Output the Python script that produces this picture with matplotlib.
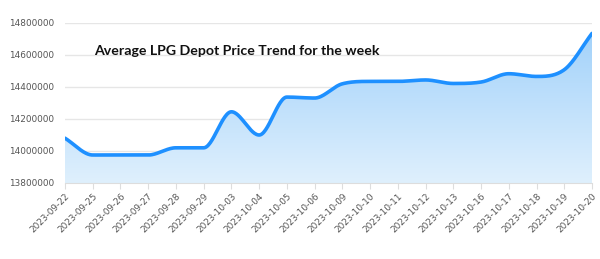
import numpy as np
import matplotlib
matplotlib.use("Agg")
import matplotlib.pyplot as plt
from matplotlib.colors import LinearSegmentedColormap

dates = ["2023-09-22", "2023-09-25", "2023-09-26", "2023-09-27", "2023-09-28",
         "2023-09-29", "2023-10-03", "2023-10-04", "2023-10-05", "2023-10-06",
         "2023-10-09", "2023-10-10", "2023-10-11", "2023-10-12", "2023-10-13",
         "2023-10-16", "2023-10-17", "2023-10-18", "2023-10-19", "2023-10-20"]
prices = [14080000, 13975000, 13975000, 13975000, 14020000,
          14020000, 14245000, 14100000, 14337000, 14331000,
          14420000, 14435000, 14435000, 14444000, 14422000,
          14431000, 14483000, 14466000, 14508000, 14735000]
yticks = [13800000, 14000000, 14200000, 14400000, 14600000, 14800000]
title = "Average LPG Depot Price Trend for the week"


def monotone(x, y, n=30):
    x = np.asarray(x, float); y = np.asarray(y, float)
    h = np.diff(x); d = np.diff(y) / h
    m = np.zeros_like(y)
    m[0] = d[0]; m[-1] = d[-1]
    for i in range(1, len(y) - 1):
        if d[i - 1] * d[i] <= 0:
            m[i] = 0
        else:
            m[i] = (d[i - 1] + d[i]) / 2
    for i in range(len(d)):
        if d[i] == 0:
            m[i] = m[i + 1] = 0
        else:
            a = m[i] / d[i]; b = m[i + 1] / d[i]
            s = a * a + b * b
            if s > 9:
                t = 3 / np.sqrt(s)
                m[i] = t * a * d[i]; m[i + 1] = t * b * d[i]
    xs, ys = [], []
    for i in range(len(d)):
        t = np.linspace(0, 1, n, endpoint=False)
        h00 = 2 * t**3 - 3 * t**2 + 1
        h10 = t**3 - 2 * t**2 + t
        h01 = -2 * t**3 + 3 * t**2
        h11 = t**3 - t**2
        xs.append(x[i] + t * h[i])
        ys.append(h00 * y[i] + h10 * h[i] * m[i] + h01 * y[i + 1] + h11 * h[i] * m[i + 1])
    xs.append([x[-1]]); ys.append([y[-1]])
    return np.concatenate(xs), np.concatenate(ys)


fig = plt.figure(figsize=(6.0, 2.59), dpi=100)
ax = fig.add_axes([65 / 600, 1 - 183 / 259, 527 / 600, 160 / 259])

x = np.arange(len(dates))
xs, ys = monotone(x, prices)

ymin, ymax = yticks[0], yticks[-1]
poly = ax.fill_between(xs, ys, ymin, color="none", lw=0)
cmap = LinearSegmentedColormap.from_list("g", ["#dff0fd", "#a3d2fa"])
grad = np.linspace(0, 1, 256).reshape(-1, 1)
img = ax.imshow(grad, cmap=cmap, aspect="auto", origin="lower",
                extent=[x[0], x[-1], ymin, max(prices)], zorder=1)
img.set_clip_path(poly.get_paths()[0], transform=ax.transData)

ax.plot(xs, ys, color="#1e90ff", lw=2.6, zorder=3, solid_capstyle="round")

ax.set_xlim(x[0], x[-1])
ax.set_ylim(ymin, ymax)
ax.set_yticks(yticks)
ax.set_yticklabels([str(v) for v in yticks])
ax.set_xticks(x)
ax.set_xticklabels(dates, rotation=45, ha="right", rotation_mode="anchor")
ax.grid(axis="y", color="#e6e6e6", lw=1, zorder=0)
ax.set_axisbelow(True)
for s in ["top", "right", "left"]:
    ax.spines[s].set_visible(False)
ax.spines["bottom"].set_color("#dddddd")
ax.tick_params(axis="y", length=0, pad=8, labelsize=6.4, labelcolor="#555555")
ax.tick_params(axis="x", length=4, color="#dddddd", pad=2, labelsize=6.4, labelcolor="#555555")

fig.text(94 / 600, 1 - 51 / 259, title, fontsize=10.15, fontweight="bold",
         family=["Lato", "DejaVu Sans"], color="#111111", va="center", ha="left")

fig.savefig("out.png", dpi=100, facecolor="white")
